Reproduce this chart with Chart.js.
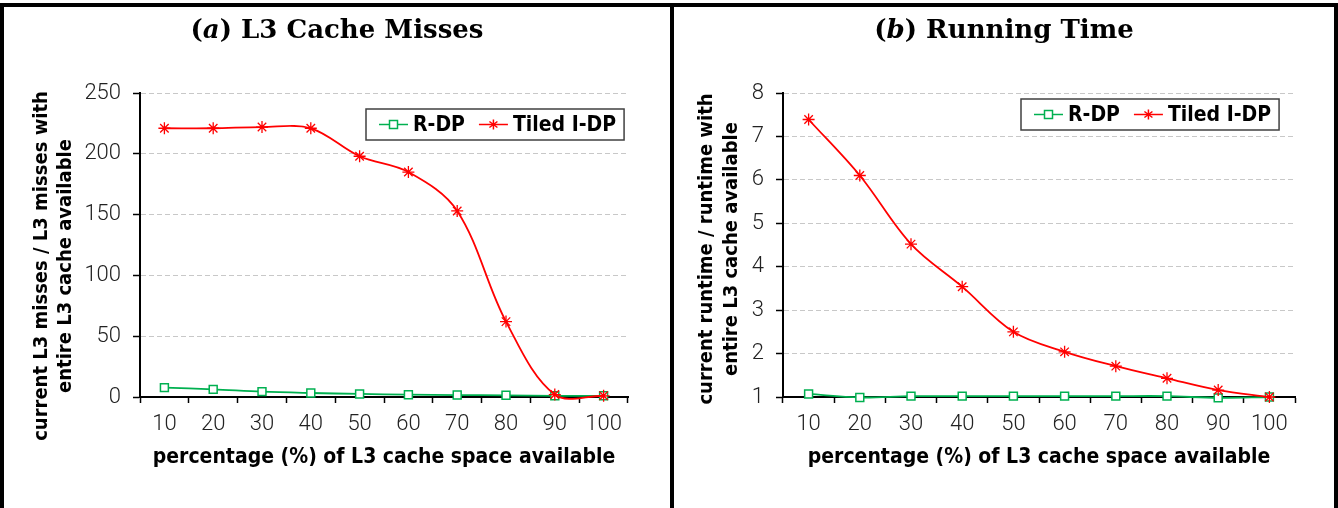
<!DOCTYPE html>
<html>
<head>
<meta charset="utf-8">
<script src="https://cdn.jsdelivr.net/npm/chart.js@4/dist/chart.umd.min.js"></script>
<style>
  html, body { margin: 0; padding: 0; background: #fff; }
  body { width: 1338px; height: 508px; position: relative; overflow: hidden; }
  .frame { position: absolute; left: 0; top: 3px; width: 1330px; height: 530px; border: 4px solid #000; border-bottom: none; z-index: 5; pointer-events: none; }
  .divider { position: absolute; left: 670px; top: 3px; width: 4px; height: 510px; background: #000; z-index: 5; }
  .panel { position: absolute; top: 0; }
  .title { position: absolute; top: 14px; height: 32px; line-height: 32px; text-align: center; font: bold 26px "DejaVu Serif", serif; color: #000; z-index: 6; }
  .title i { font-style: italic; }
</style>
</head>
<body>
<div class="frame"></div>
<div class="divider"></div>
<div class="title" style="left:4px;width:666px">(<i>a</i>) L3 Cache Misses</div>
<div class="title" style="left:674px;width:660px">(<i>b</i>) Running Time</div>
<canvas id="chart-misses" class="panel" style="left:0" width="670" height="508"></canvas>
<canvas id="chart-runtime" class="panel" style="left:670px" width="668" height="508"></canvas>
<script>
// percentage of L3 cache space available
const categories = ['10', '20', '30', '40', '50', '60', '70', '80', '90', '100'];
const seriesNames = ['R-DP', 'Tiled I-DP'];

// (a) L3 misses relative to full cache
const missesRDP = [7.7, 6.3, 4.4, 3.3, 2.5, 1.9, 1.6, 1.4, 1.0, 1.0];
const missesTiled = [221, 221, 222, 221, 198, 185, 153, 62, 2, 1];
const missesTicks = { min: 0, max: 250, step: 50 };

// (b) runtime relative to full cache
const runtimeRDP = [1.07, 0.99, 1.02, 1.02, 1.02, 1.02, 1.02, 1.02, 0.98, 1.0];
const runtimeTiled = [7.39, 6.10, 4.52, 3.54, 2.50, 2.04, 1.71, 1.43, 1.16, 1.0];
const runtimeTicks = { min: 1, max: 8, step: 1 };

const GREEN = '#00b050';
const RED = '#ff0000';
const BOLD_FONT = '"DejaVu Sans Condensed", "DejaVu Sans", sans-serif';
const TICK_FONT = 'Roboto, "DejaVu Sans", sans-serif';

// legend drawn as a framed box inside the plot, line + marker + label
const boxLegend = {
  id: 'boxLegend',
  afterDatasetsDraw(chart, args, opts) {
    const ctx = chart.ctx;
    const sets = chart.data.datasets;
    ctx.save();
    ctx.font = 'bold 21px ' + BOLD_FONT;
    const padL = 13, padR = 8, lineLen = 29, gapText = 5, gapItem = 14, h = 31;
    let w = padL + padR;
    sets.forEach((ds, i) => {
      w += lineLen + gapText + ctx.measureText(ds.label).width;
      if (i < sets.length - 1) w += gapItem;
    });
    const x0 = opts.left, y0 = opts.top, cy = y0 + h / 2;
    ctx.fillStyle = '#fff';
    ctx.fillRect(x0, y0, w, h);
    ctx.strokeStyle = '#404040';
    ctx.lineWidth = 1.5;
    ctx.strokeRect(x0, y0, w, h);
    let x = x0 + padL;
    sets.forEach((ds) => {
      ctx.strokeStyle = ds.borderColor;
      ctx.lineWidth = 1.5;
      ctx.beginPath();
      ctx.moveTo(x, cy);
      ctx.lineTo(x + lineLen, cy);
      ctx.stroke();
      const mx = x + lineLen / 2;
      if (ds.pointStyle === 'rect') {
        ctx.fillStyle = '#fff';
        ctx.fillRect(mx - 4, cy - 4, 8, 8);
        ctx.strokeRect(mx - 4, cy - 4, 8, 8);
      } else {
        const r = 5;
        ctx.beginPath();
        ctx.moveTo(mx, cy - r); ctx.lineTo(mx, cy + r);
        ctx.moveTo(mx - r * 0.8, cy - r * 0.6); ctx.lineTo(mx + r * 0.8, cy + r * 0.6);
        ctx.moveTo(mx - r * 0.8, cy + r * 0.6); ctx.lineTo(mx + r * 0.8, cy - r * 0.6);
        ctx.stroke();
      }
      x += lineLen + gapText;
      ctx.fillStyle = '#000';
      ctx.textBaseline = 'middle';
      ctx.fillText(ds.label, x, cy + 1);
      x += ctx.measureText(ds.label).width + gapItem;
    });
    ctx.restore();
  }
};

// two-line rotated y-axis title, placed like the original (not centred on the plot)
const yAxisTitle = {
  id: 'yAxisTitle',
  afterDraw(chart, args, opts) {
    const ctx = chart.ctx;
    ctx.save();
    ctx.font = 'bold 20px ' + BOLD_FONT;
    ctx.fillStyle = '#000';
    ctx.textAlign = 'center';
    ctx.textBaseline = 'middle';
    opts.lines.forEach((text, i) => {
      ctx.save();
      ctx.translate(opts.x[i], opts.y);
      ctx.rotate(-Math.PI / 2);
      ctx.fillText(text, 0, 0);
      ctx.restore();
    });
    ctx.restore();
  }
};

function makeDatasets(rdp, tiled) {
  return [
    {
      label: seriesNames[0], data: rdp, borderColor: GREEN, borderWidth: 1.8,
      pointStyle: 'rect', pointRadius: 5.6, pointBackgroundColor: '#fff',
      pointBorderColor: GREEN, pointBorderWidth: 1.5, tension: 0.35, order: 2, clip: false
    },
    {
      label: seriesNames[1], data: tiled, borderColor: RED, backgroundColor: RED, borderWidth: 1.8,
      pointStyle: 'star', pointRadius: 6, pointBorderColor: RED, pointBorderWidth: 1.3,
      tension: 0.35, order: 1, clip: false
    }
  ];
}

function makeChart(id, rdp, tiled, ticks, yTitle, geo) {
  const ctx = document.getElementById(id).getContext('2d');
  return new Chart(ctx, {
    type: 'line',
    data: { labels: categories, datasets: makeDatasets(rdp, tiled) },
    options: {
      responsive: false,
      animation: false,
      devicePixelRatio: 1,
      layout: { padding: { left: 0, top: 93, right: geo.right, bottom: 0 } },
      elements: { line: { capBezierPoints: false } },
      plugins: {
        legend: { display: false },
        tooltip: { enabled: false },
        boxLegend: { left: geo.legendLeft, top: geo.legendTop },
        yAxisTitle: { lines: yTitle, x: geo.yTitleX, y: geo.yTitleY }
      },
      scales: {
        x: {
          offset: true,
          grid: { display: true, drawOnChartArea: false, drawTicks: true, tickLength: 6, tickColor: '#000', tickWidth: 1.5, offset: true },
          border: { display: true, color: '#000', width: 2 },
          ticks: { color: '#222', font: { family: TICK_FONT, size: 22, weight: '300' }, padding: 8, maxRotation: 0, autoSkip: false },
          title: {
            display: true, text: 'percentage (%) of L3 cache space available', color: '#000',
            font: { family: BOLD_FONT, size: 21, weight: 'bold', lineHeight: 1.15 }, padding: { top: 0, bottom: 38 }
          },
          afterFit: (scale) => { scale.height = 111; }
        },
        y: {
          min: ticks.min, max: ticks.max,
          grid: { color: '#c8c8c8', lineWidth: 1, drawTicks: true, tickLength: 7, tickColor: '#000', tickWidth: 1.5 },
          border: { display: true, color: '#000', width: 2, dash: [5, 3] },
          ticks: { stepSize: ticks.step, color: '#222', font: { family: TICK_FONT, size: 22, weight: '300' }, padding: 12 },
          title: { display: false },
          afterFit: (scale) => { scale.width = geo.axisLeft; }
        }
      }
    },
    plugins: [boxLegend, yAxisTitle]
  });
}

function initCharts() {
  try {
    makeChart('chart-misses', missesRDP, missesTiled, missesTicks,
      ['current L3 misses / L3 misses with', 'entire L3 cache available'],
      { axisLeft: 140, right: 42, legendLeft: 366, legendTop: 109, yTitleX: [42, 66], yTitleY: 266 });
    makeChart('chart-runtime', runtimeRDP, runtimeTiled, runtimeTicks,
      ['current runtime / runtime with', 'entire L3 cache available'],
      { axisLeft: 113, right: 43, legendLeft: 351, legendTop: 99, yTitleX: [37, 62], yTitleY: 249 });
  } catch (e) {
    console.error('chart init failed: ' + e.message);
  }
}

document.addEventListener('DOMContentLoaded', initCharts);
</script>
</body>
</html>
